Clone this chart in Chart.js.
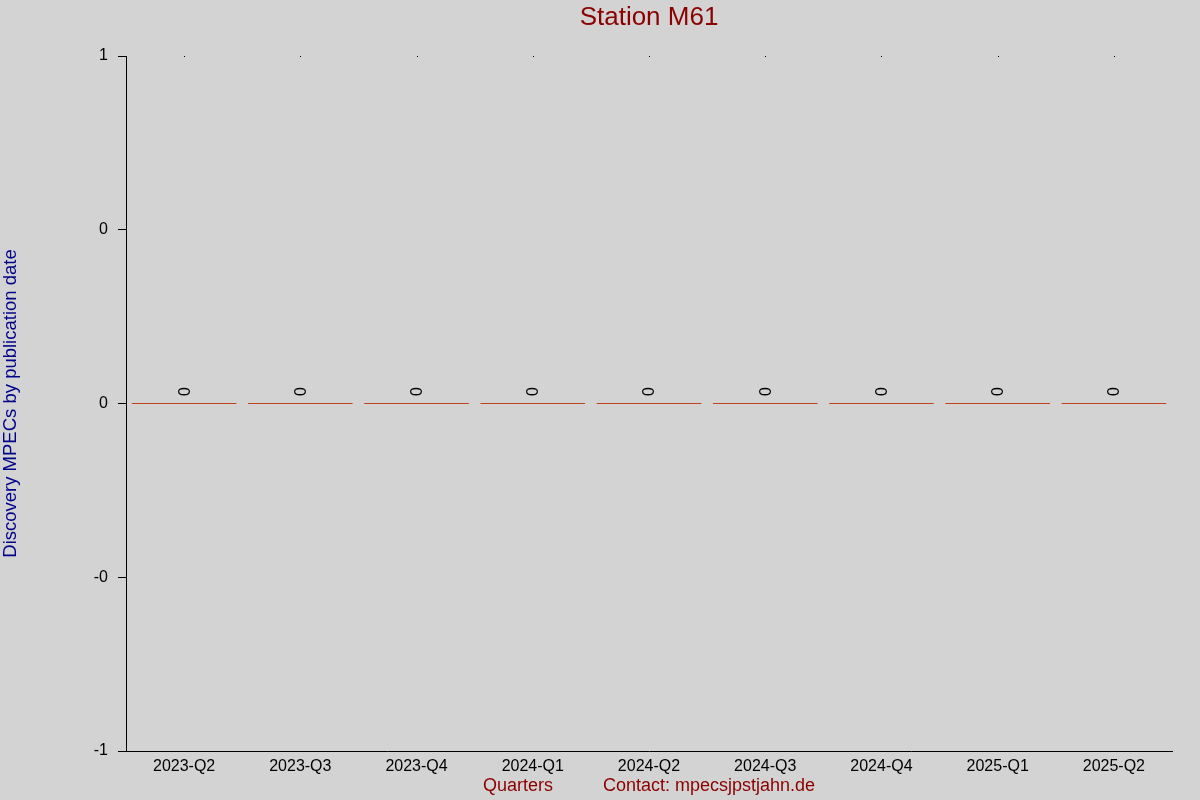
<!DOCTYPE html>
<html>
<head>
<meta charset="utf-8">
<title>Station M61</title>
<script src="https://cdn.jsdelivr.net/npm/chart.js@4"></script>
<style>
    html, body { margin: 0; padding: 0; background: #d3d3d3; }
    #wrap { width: 1200px; height: 800px; }
</style>
</head>
<body>
<div id="wrap"><canvas id="mpecChart" width="1200" height="800"></canvas></div>
<script>
// Datos del gráfico
const chartTitle = "Station M61";
const quarters = ["2023-Q2", "2023-Q3", "2023-Q4", "2024-Q1", "2024-Q2", "2024-Q3", "2024-Q4", "2025-Q1", "2025-Q2"];
const discoveries = [0, 0, 0, 0, 0, 0, 0, 0, 0];
const yTickValues = [1, 0.5, 0, -0.5, -1];
const yTickLabels = ["1", "0", "0", "-0", "-1"];

const fontFamily = "'Liberation Sans', Arial, sans-serif";

document.addEventListener("DOMContentLoaded", function () {
    var ctx = document.getElementById("mpecChart").getContext("2d");

    // Título centrado sobre el área del gráfico, etiquetas verticales y puntos arriba
    const barLabels = {
        id: "barLabels",
        afterDatasetsDraw(chart) {
            const c = chart.ctx;
            const area = chart.chartArea;
            const meta = chart.getDatasetMeta(0);
            c.save();
            c.font = "26px " + fontFamily;
            c.fillStyle = "#8b0000";
            c.textAlign = "center";
            c.textBaseline = "middle";
            c.fillText(chartTitle, (area.left + area.right) / 2, 18);

            meta.data.forEach(function (bar, i) {
                // punto pequeño en el borde superior
                c.fillStyle = "#000000";
                c.fillRect(Math.round(bar.x), area.top, 1, 1);

                c.save();
                c.translate(bar.x + 1, bar.y - 12.5);
                c.rotate(-Math.PI / 2);
                c.font = "16px " + fontFamily;
                c.textAlign = "center";
                c.textBaseline = "middle";
                c.fillStyle = "#000000";
                c.fillText(String(discoveries[i]), 0, 0);
                c.restore();
            });
            c.restore();
        },
    };

    new Chart(ctx, {
        type: "bar",
        data: {
            labels: quarters,
            datasets: [
                {
                    label: "Discovery MPECs",
                    data: discoveries,
                    backgroundColor: "#c0441a",
                    borderWidth: 0,
                    inflateAmount: 0,
                    minBarLength: 1, // barra de valor 0 visible como línea
                    categoryPercentage: 0.9,
                    barPercentage: 1.0,
                },
            ],
        },
        options: {
            responsive: false,
            animation: false,
            layout: {
                padding: { top: 56, right: 28, bottom: 0, left: 0 },
            },
            plugins: {
                legend: { display: false },
                tooltip: { enabled: false },
                title: { display: false },
            },
            scales: {
                x: {
                    grid: { display: false, drawTicks: false },
                    border: { display: true, color: "#000000", width: 1 },
                    ticks: {
                        color: "#000000",
                        padding: 6,
                        maxRotation: 0,
                        font: { family: fontFamily, size: 16 },
                    },
                    title: {
                        display: true,
                        text: "Quarters          Contact: mpecsjpstjahn.de",
                        color: "#8b0000",
                        font: { family: fontFamily, size: 18 },
                        padding: { top: 0, bottom: 3 },
                    },
                    afterFit: function (scale) {
                        scale.height = 49;
                    },
                },
                y: {
                    min: -1,
                    max: 1,
                    afterBuildTicks: function (scale) {
                        scale.ticks = yTickValues.map(function (v) { return { value: v }; });
                    },
                    grid: {
                        display: true,
                        drawOnChartArea: false,
                        drawTicks: true,
                        tickLength: 8,
                        color: "#000000",
                    },
                    border: { display: true, color: "#000000", width: 1 },
                    ticks: {
                        color: "#000000",
                        padding: 10,
                        font: { family: fontFamily, size: 16 },
                        callback: function (value, index) {
                            return yTickLabels[index];
                        },
                    },
                    title: {
                        display: true,
                        text: "Discovery MPECs by publication date",
                        color: "#00008b",
                        font: { family: fontFamily, size: 18.5 },
                        padding: { top: 0, bottom: 0 },
                    },
                    afterFit: function (scale) {
                        scale.width = 126;
                    },
                },
            },
        },
        plugins: [barLabels],
    });
});
</script>
</body>
</html>
